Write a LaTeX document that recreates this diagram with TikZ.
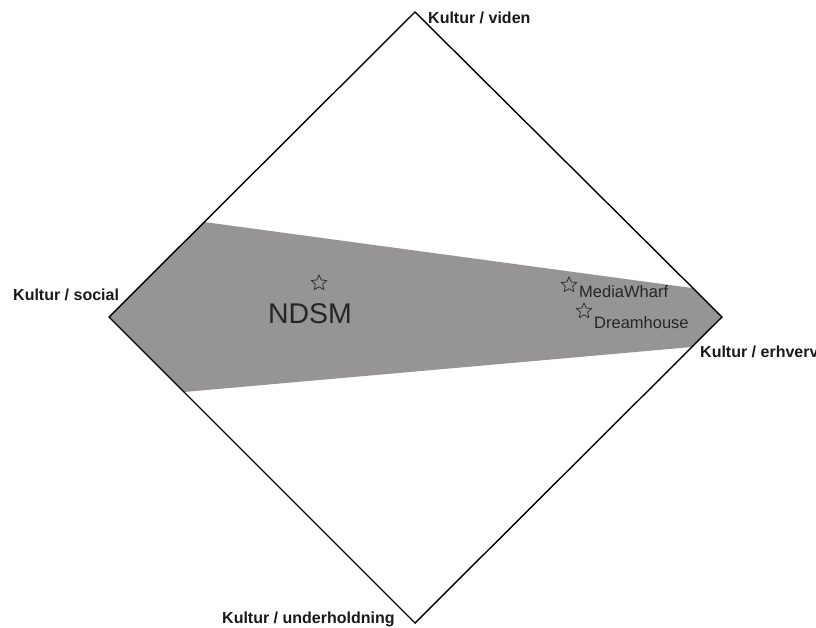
\documentclass[tikz,border=0pt]{standalone}
\usepackage{fontspec}
\setmainfont{Liberation Sans}
\usetikzlibrary{shapes.geometric}
\definecolor{bandgray}{RGB}{150,148,148}

\begin{document}
\begin{tikzpicture}[
  x=1pt, y=-1pt,
  axis/.style={inner sep=0pt, font=\fontsize{16}{18}\selectfont\bfseries, text=black!90},
  place/.style={inner sep=0pt, font=\fontsize{16.5}{18}\selectfont, text=black!85},
  starmark/.style={star, star points=5, star point ratio=2.1, draw=black!85, line width=0.7pt, minimum size=16pt, inner sep=0pt}
]
\useasboundingbox (0,0) rectangle (816,627);

\coordinate (top) at (415,12);
\coordinate (left) at (109,317);
\coordinate (right) at (722,317);
\coordinate (bottom) at (415,623);

% shaded band
\fill[bandgray] (left) -- (204,222) -- (692,288) -- (right) -- (692,347) -- (184,392) -- cycle;

\draw[line width=1.4pt, line join=miter] (top) -- (right) -- (bottom) -- (left) -- cycle;

\node[axis, anchor=base west] (viden) at (428,23) {Kultur / viden};
\node[axis, anchor=base west] (social) at (13,300) {Kultur / social};
\node[axis, anchor=base west] (erhverv) at (700,357) {Kultur / erhverv};
\node[axis, anchor=base west] (under) at (222,623) {Kultur / underholdning};

\node[starmark] (ndsmstar) at (319,283) {};
\node[place, font=\fontsize{28.5}{30}\selectfont, anchor=base] (ndsm) at (310,323) {NDSM};

\node[starmark] (mediastar) at (569,285) {};
\node[place, anchor=base west] (media) at (579,297) {MediaWharf};

\node[starmark] (dreamstar) at (584,311) {};
\node[place, anchor=base west] (dream) at (594,328) {Dreamhouse};

\end{tikzpicture}
\end{document}
